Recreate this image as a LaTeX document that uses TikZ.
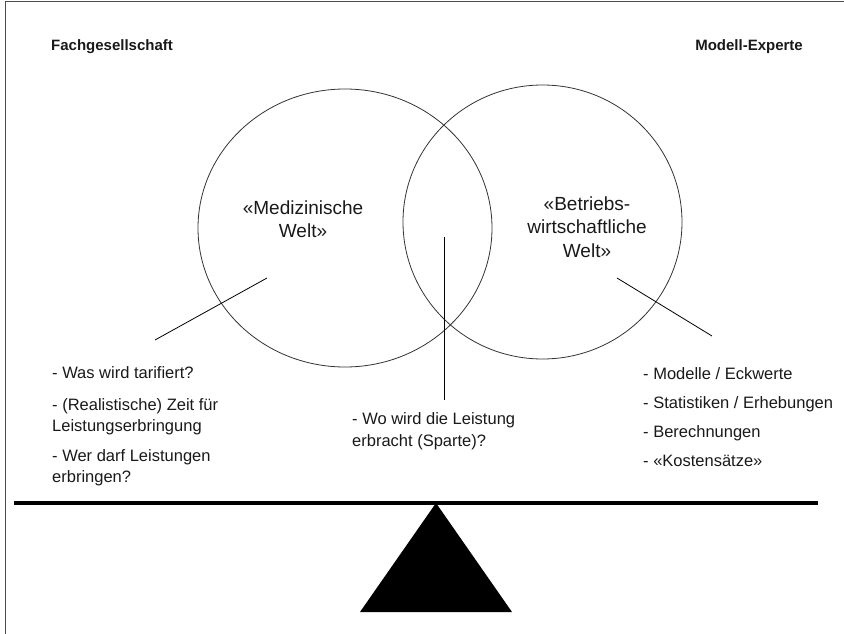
\documentclass[tikz,border=0pt]{standalone}
\usepackage{fontspec}
\setmainfont{Liberation Sans}
\usetikzlibrary{shapes.geometric}
\begin{document}
\begin{tikzpicture}[x=1pt,y=-1pt,
  every node/.style={inner sep=0pt,text=black!90,font=\fontsize{16.5}{21}\selectfont},
  head/.style={font=\fontsize{15}{18}\selectfont\bfseries},
  kreis/.style={draw=black!80,line width=0.8pt,ellipse},
  welt/.style={align=center,anchor=base,font=\fontsize{19}{23.5}\selectfont},
  liste/.style={align=left,anchor=base west}]
\useasboundingbox (0,0) rectangle (844,634);
\draw[black!70,line width=1pt] (844,1.5) -- (5.5,1.5) -- (5.5,634);
\node[head,anchor=base west] (fach) at (51,51) {Fachgesellschaft};
\node[head,anchor=base east] (experte) at (803,51) {Modell-Experte};
% die beiden Welten
\node[kreis,minimum width=294pt,minimum height=278pt] (medkreis) at (345,228) {};
\node[kreis,minimum width=279pt,minimum height=274pt] (bwlkreis) at (542.5,222) {};
\node[welt] (med) at (303,237.5) {«Medizinische\\Welt»};
\node[welt] (bwl) at (587,257) {«Betriebs-\\wirtschaftliche\\Welt»};
% Zeiger
\coordinate (medzeiger) at (267,278);
\coordinate (fragenzeiger) at (155,340);
\coordinate (mittezeiger) at (444,237);
\coordinate (spartezeiger) at (444,400);
\coordinate (bwlzeiger) at (617,278);
\coordinate (modellzeiger) at (712,336);
\draw[line width=0.8pt] (medzeiger) -- (fragenzeiger);
\draw[line width=0.8pt] (mittezeiger) -- (spartezeiger);
\draw[line width=0.8pt] (bwlzeiger) -- (modellzeiger);
\node[liste] (fragen) at (52,482) {- Was wird tarifiert?\\[11pt]- (Realistische) Zeit für\\Leistungserbringung\\[9pt]- Wer darf Leistungen\\erbringen?};
\node[liste] (sparte) at (352,446) {- Wo wird die Leistung\\[1pt]erbracht (Sparte)?};
\node[liste] (modelle) at (643,466) {- Modelle / Eckwerte\\[8pt]- Statistiken / Erhebungen\\[8pt]- Berechnungen\\[8pt]- «Kostensätze»};
% Waage
\draw[line width=3.5pt] (14,503) -- (818,503);
\fill (436,503) -- (512,612) -- (360,612) -- cycle;
\end{tikzpicture}
\end{document}
